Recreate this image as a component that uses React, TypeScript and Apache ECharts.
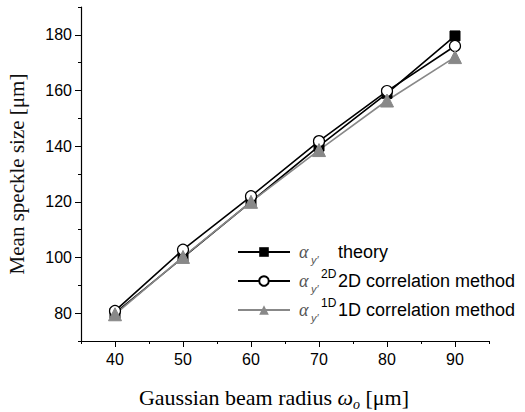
import React, { useEffect, useRef } from "react";
import * as echarts from "echarts";

const radius = [40, 50, 60, 70, 80, 90];
const theory = [80, 100, 120, 140, 159, 179.6];
const corr2D = [80.8, 102.8, 122, 141.8, 159.8, 176];
const corr1D = [79.6, 100.2, 120, 138.6, 156.4, 172];
const xMajor = [40, 50, 60, 70, 80, 90];
const yMajor = [80, 100, 120, 140, 160, 180];
const seriesNames = ["theory", "2D correlation method", "1D correlation method"];

export default function App() {
  const ref = useRef<HTMLDivElement>(null);
  useEffect(() => {
    if (!ref.current) return;
    const chart = echarts.init(ref.current, undefined, { renderer: "svg" });
    const sans = "Liberation Sans, Arial, sans-serif";
    const serif = "Liberation Serif, Times New Roman, serif";
    const mk = (v: number[]) => radius.map((x, i) => [x, v[i]]);
    const axisLine = { show: true, lineStyle: { color: "#000", width: 1.2 } };
    chart.setOption({
      animation: false,
      backgroundColor: "#fff",
      grid: { left: 81, right: 36, top: 7, bottom: 71, containLabel: false, outerBoundsMode: "none" },
      xAxis: [
        {
          type: "value", min: 35, max: 95, interval: 5, position: "bottom",
          axisLine, axisTick: { show: true, length: 3, lineStyle: { color: "#000" } },
          axisLabel: { show: false }, splitLine: { show: false },
          name: "Gaussian beam radius {w|ω}{o|o} [μm]",
          nameLocation: "middle", nameGap: 42,
          nameTextStyle: {
            fontFamily: serif, fontSize: 22, color: "#000", padding: [0, 22, 0, 0],
            rich: {
              w: { fontFamily: serif, fontStyle: "italic", fontSize: 22, color: "#000" },
              o: { fontFamily: serif, fontStyle: "italic", fontSize: 14, color: "#000", padding: [14, 0, 0, 0] },
            },
          },
        },
        {
          type: "value", min: 35, max: 95, position: "bottom",
          axisLine: { show: false },
          axisTick: { show: true, length: 6, customValues: xMajor, lineStyle: { color: "#000" } },
          axisLabel: { show: true, customValues: xMajor, fontFamily: sans, fontSize: 16, color: "#000", margin: 10 },
          splitLine: { show: false },
        },
      ],
      yAxis: [
        {
          type: "value", min: 70, max: 190, interval: 10, position: "left",
          axisLine, axisTick: { show: true, length: 3, lineStyle: { color: "#000" } },
          axisLabel: { show: false }, splitLine: { show: false },
          name: "Mean speckle size [μm]",
          nameLocation: "middle", nameGap: 54,
          nameTextStyle: { fontFamily: serif, fontSize: 21, fontWeight: "normal", color: "#111" },
        },
        {
          type: "value", min: 70, max: 190, position: "left",
          axisLine: { show: false },
          axisTick: { show: true, length: 6, customValues: yMajor, lineStyle: { color: "#000" } },
          axisLabel: { show: true, customValues: yMajor, fontFamily: sans, fontSize: 16, color: "#000", margin: 9 },
          splitLine: { show: false },
        },
      ],
      legend: {
        orient: "vertical", left: 232, top: 234, itemWidth: 52, itemHeight: 12, itemGap: 3,
        data: seriesNames,
        formatter: (name: string) => {
          if (name === "theory") return "{a|α}{s|y′}{p| }{t|theory}";
          if (name === "2D correlation method") return "{a|α}{s|y′}{p|2D}{t|2D correlation method}";
          return "{a|α}{s|y′}{p|1D}{t|1D correlation method}";
        },
        textStyle: {
          color: "#000", fontFamily: sans, fontSize: 18,
          rich: {
            a: { fontFamily: serif, fontStyle: "italic", fontSize: 18, color: "#555", width: 12, height: 24, padding: [0, 0, 0, 4], verticalAlign: "middle" },
            s: { fontFamily: sans, fontStyle: "italic", fontSize: 11, color: "#555", width: 10, padding: [15, 0, 0, 0], verticalAlign: "bottom" },
            p: { fontFamily: sans, fontSize: 12, color: "#000", width: 17, padding: [0, 0, 12, 0], verticalAlign: "top" },
            t: { fontFamily: sans, fontSize: 18, color: "#000", padding: [0, 0, 0, 0], verticalAlign: "middle" },
          },
        },
      },
      series: [
        {
          name: seriesNames[0], type: "line", data: mk(theory), xAxisIndex: 0, yAxisIndex: 0,
          symbol: "rect", symbolSize: 10,
          lineStyle: { color: "#000", width: 1.6 }, itemStyle: { color: "#000", borderColor: "#000" },
        },
        {
          name: seriesNames[1], type: "line", data: mk(corr2D), xAxisIndex: 0, yAxisIndex: 0,
          symbol: "circle", symbolSize: 11,
          lineStyle: { color: "#000", width: 1.6 }, itemStyle: { color: "#fff", borderColor: "#000", borderWidth: 1.2 },
        },
        {
          name: seriesNames[2], type: "line", data: mk(corr1D), xAxisIndex: 0, yAxisIndex: 0,
          symbol: "triangle", symbolSize: 13,
          lineStyle: { color: "#888", width: 1.6 }, itemStyle: { color: "#888", borderColor: "#888" },
        },
      ],
    });
    return () => chart.dispose();
  }, []);
  return <div ref={ref} style={{ width: 525, height: 412, position: "absolute", left: 0, top: 0 }} />;
}
